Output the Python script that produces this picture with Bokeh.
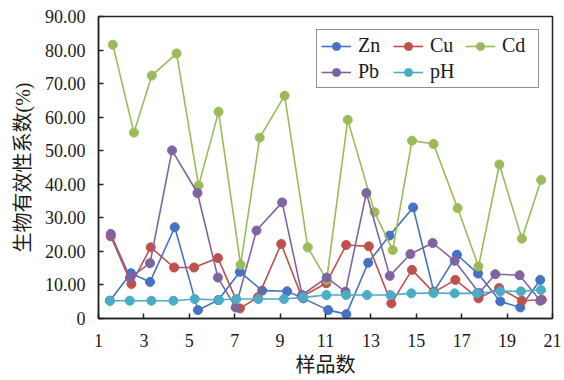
from bokeh.plotting import figure
from bokeh.models import Legend, LegendItem, FixedTicker, NumeralTickFormatter, Range1d
from bokeh.embed import file_html
from bokeh.resources import INLINE

# Data (x = plotted position, y = coefficient %)
zn_x = [1.50, 2.43, 3.27, 4.36, 5.38, 6.28, 7.23, 8.21, 9.31, 10.02, 11.12, 11.92, 12.88, 13.82, 14.86, 15.77, 16.79, 17.72, 18.70, 19.58, 20.46]
zn_y = [5.3, 13.5, 10.9, 27.2, 2.5, 5.5, 13.9, 8.3, 8.1, 6.0, 2.5, 1.3, 16.6, 24.7, 33.1, 8.0, 19.0, 13.4, 5.1, 3.3, 11.5]

cu_x = [1.54, 2.45, 3.30, 4.33, 5.21, 6.26, 7.23, 8.02, 9.05, 9.95, 11.03, 11.91, 12.91, 13.90, 14.81, 15.76, 16.72, 17.74, 18.65, 19.65, 20.53]
cu_y = [24.5, 10.3, 21.2, 15.2, 15.2, 18.0, 3.0, 6.3, 22.2, 6.5, 10.5, 21.9, 21.5, 4.5, 14.5, 7.8, 11.5, 6.0, 9.1, 5.3, 5.6]

cd_x = [1.63, 2.56, 3.35, 4.44, 5.41, 6.29, 7.26, 8.10, 9.20, 10.22, 11.05, 11.98, 13.16, 13.96, 14.81, 15.76, 16.82, 17.74, 18.66, 19.65, 20.50]
cd_y = [81.6, 55.4, 72.4, 79.0, 39.6, 61.6, 16.0, 53.9, 66.4, 21.2, 11.5, 59.2, 31.7, 20.4, 53.0, 52.0, 32.9, 15.5, 45.9, 23.8, 41.3]

pb_x = [1.54, 2.39, 3.27, 4.24, 5.36, 6.26, 7.04, 7.96, 9.09, 9.97, 11.05, 11.88, 12.80, 13.83, 14.74, 15.72, 16.69, 17.77, 18.48, 19.55, 20.46]
pb_y = [25.2, 12.2, 16.5, 50.1, 37.4, 12.2, 3.3, 26.2, 34.6, 7.0, 12.2, 8.0, 37.4, 12.7, 19.2, 22.5, 17.2, 7.6, 13.2, 12.9, 5.3]

ph_x = [1.50, 2.38, 3.33, 4.30, 5.24, 6.31, 7.07, 8.04, 9.17, 10.02, 11.04, 11.91, 12.83, 13.86, 14.78, 15.76, 16.69, 17.67, 18.70, 19.61, 20.49]
ph_y = [5.3, 5.3, 5.3, 5.3, 5.8, 5.5, 5.8, 5.8, 5.8, 6.3, 7.0, 7.0, 7.0, 7.0, 7.5, 7.6, 7.5, 7.5, 8.1, 8.1, 8.5]

x_ticks = [1, 3, 5, 7, 9, 11, 13, 15, 17, 19, 21]
y_ticks = [0, 10, 20, 30, 40, 50, 60, 70, 80, 90]

series = [
    ("Zn", zn_x, zn_y, "#4472C4"),
    ("Cu", cu_x, cu_y, "#C0504D"),
    ("Cd", cd_x, cd_y, "#9BBB59"),
    ("Pb", pb_x, pb_y, "#8064A2"),
    ("pH", ph_x, ph_y, "#4BACC6"),
]

SERIF = "Liberation Serif"
CJK = "Liberation Serif, Noto Sans CJK SC"

p = figure(width=564, height=380, output_backend="svg", toolbar_location=None,
           x_range=Range1d(1, 21), y_range=Range1d(0, 90),
           min_border_left=98, min_border_right=12, min_border_top=16, min_border_bottom=62)

p.xgrid.visible = False
p.ygrid.visible = False
p.outline_line_color = "#222222"
p.outline_line_width = 1.5
p.background_fill_color = "white"
p.border_fill_color = "white"

items = []
for name, xs, ys, col in series:
    r1 = p.line(xs, ys, line_color=col, line_width=1.6)
    r2 = p.scatter(xs, ys, marker="circle", size=9, fill_color=col, line_color=col)
    items.append(LegendItem(label=name, renderers=[r1, r2]))

for ax in (p.xaxis[0], p.yaxis[0]):
    ax.axis_line_color = "#222222"
    ax.axis_line_width = 1.5
    ax.major_tick_line_color = "#222222"
    ax.major_tick_line_width = 1.5
    ax.major_tick_in = 5
    ax.major_tick_out = 0
    ax.minor_tick_line_color = None
    ax.major_label_text_font = SERIF
    ax.major_label_text_font_size = "18px"
    ax.major_label_text_color = "#1a1a1a"
    ax.axis_label_text_font = CJK
    ax.axis_label_text_font_size = "20px"
    ax.axis_label_text_font_style = "normal"
    ax.axis_label_text_color = "#1a1a1a"

p.xaxis.ticker = FixedTicker(ticks=x_ticks)
p.xaxis.major_label_standoff = 15
p.xaxis.axis_label = "样品数"
p.xaxis.axis_label_standoff = 4

p.yaxis.ticker = FixedTicker(ticks=y_ticks)
p.yaxis.formatter = NumeralTickFormatter(format="0.00")
p.yaxis.major_label_overrides = {0: "0"}
p.yaxis.major_label_standoff = 13
p.yaxis.axis_label = "生物有效性系数(%)"
p.yaxis.axis_label_standoff = 8

legend = Legend(items=items, location="top_right", orientation="horizontal", ncols=3,
                label_text_font=SERIF, label_text_font_size="20px", label_text_color="#1a1a1a",
                glyph_width=30, glyph_height=20, label_height=20, label_width=32,
                label_standoff=7, spacing=3, padding=4, margin=13,
                border_line_color="#222222", border_line_width=1.5,
                background_fill_alpha=1.0)
p.add_layout(legend)

open("out.html", "w").write(file_html(p, INLINE))
